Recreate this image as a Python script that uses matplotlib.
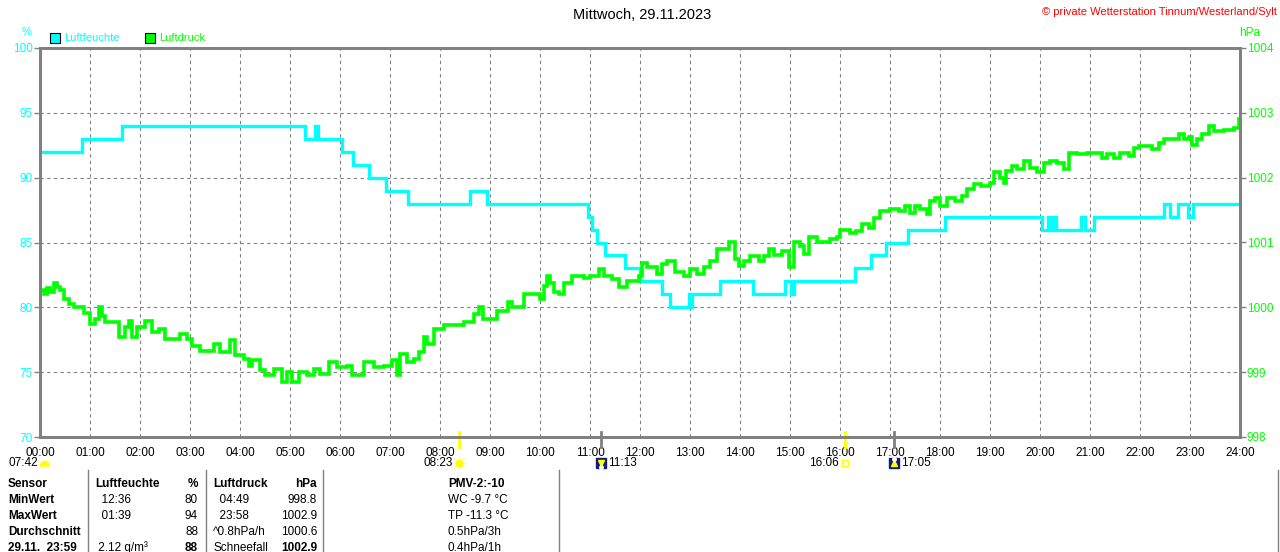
import matplotlib
matplotlib.use("Agg")
import matplotlib.pyplot as plt
from matplotlib.patches import Rectangle, Wedge
from matplotlib.transforms import blended_transform_factory

plt.rcParams['font.family'] = ['Liberation Sans', 'DejaVu Sans']

W, H = 1280, 552
CYAN = '#00ffff'
GREEN = '#00ff00'
GREY = '#808080'
NAVY = '#10207a'

# Luftfeuchte (%), change points (hour of day, value)
hum_h = [0.00, 0.84, 1.64, 5.30, 5.50, 5.56, 6.03, 6.25, 6.57, 6.92, 7.35,
         8.59, 8.95, 10.95, 11.03, 11.13, 11.30, 11.70, 12.00, 12.43, 12.60,
         12.97, 13.00, 13.03, 13.60, 14.25, 14.90, 15.02, 15.07, 16.30, 16.62,
         16.92, 17.35, 18.09, 20.03, 20.15, 20.21, 20.25, 20.32, 20.82, 20.90,
         21.08, 22.47, 22.60, 22.75, 22.95, 23.05, 23.98]
hum_v = [92, 93, 94, 93, 94, 93, 92, 91, 90, 89, 88,
         89, 88, 87, 86, 85, 84, 83, 82, 81, 80,
         81, 80, 81, 82, 81, 82, 81, 82, 83, 84,
         85, 86, 87, 86, 87, 86, 87, 86, 87, 86,
         87, 88, 87, 88, 87, 88, 88]

# Luftdruck (hPa)
press_h = [0.00, 0.07, 0.13, 0.20, 0.27, 0.33, 0.40, 0.47, 0.57, 0.67, 0.80, 0.87,
           1.00, 1.10, 1.17, 1.23, 1.30, 1.47, 1.57, 1.70, 1.77, 1.83, 1.93,
           2.10, 2.23, 2.37, 2.50, 2.73, 2.80, 2.93, 3.03, 3.20, 3.47, 3.60,
           3.80, 3.90, 4.07, 4.17, 4.23, 4.40, 4.50, 4.67, 4.83, 4.93, 5.03,
           5.17, 5.33, 5.47, 5.60, 5.77, 5.93, 6.13, 6.23, 6.47, 6.67, 6.87,
           7.03, 7.13, 7.20, 7.33, 7.47, 7.57, 7.67, 7.73, 7.87, 8.07, 8.20,
           8.40, 8.47, 8.67, 8.77, 8.87, 9.00, 9.13, 9.27, 9.37, 9.43, 9.57,
           9.67, 9.93, 10.00, 10.07, 10.13, 10.20, 10.27, 10.37, 10.47, 10.63,
           10.87, 11.00, 11.17, 11.27, 11.43, 11.57, 11.73, 11.90, 11.97, 12.03,
           12.13, 12.27, 12.33, 12.43, 12.53, 12.63, 12.70, 12.87, 13.00, 13.13,
           13.27, 13.40, 13.53, 13.67, 13.77, 13.90, 13.97, 14.07, 14.20, 14.37,
           14.47, 14.57, 14.67, 14.83, 14.97, 15.07, 15.20, 15.27, 15.37, 15.53,
           15.80, 15.93, 16.00, 16.20, 16.33, 16.43, 16.57, 16.67, 16.80, 17.00,
           17.17, 17.30, 17.40, 17.50, 17.60, 17.73, 17.80, 17.90, 18.00, 18.13,
           18.30, 18.43, 18.53, 18.67, 18.83, 19.00, 19.07, 19.20, 19.27, 19.33,
           19.43, 19.53, 19.67, 19.80, 19.93, 20.07, 20.20, 20.33, 20.47, 20.57,
           20.73, 20.93, 21.13, 21.23, 21.33, 21.47, 21.60, 21.77, 21.87, 21.97,
           22.13, 22.23, 22.37, 22.47, 22.60, 22.77, 22.87, 22.97, 23.03, 23.13,
           23.23, 23.37, 23.47, 23.67, 23.87, 23.97]
press_v = [1000.26, 1000.20, 1000.30, 1000.24, 1000.38, 1000.32, 1000.26, 1000.13, 1000.05, 1000.00, 1000.00, 999.92,
           999.74, 999.82, 1000.00, 999.87, 999.77, 999.77, 999.54, 999.69, 999.79, 999.54, 999.69,
           999.79, 999.62, 999.67, 999.51, 999.51, 999.59, 999.51, 999.41, 999.33, 999.44, 999.31,
           999.49, 999.26, 999.21, 999.10, 999.18, 999.03, 998.95, 999.05, 998.85, 999.00, 998.85,
           999.00, 998.95, 999.05, 998.97, 999.15, 999.08, 999.10, 998.95, 999.15, 999.08, 999.10,
           999.18, 998.95, 999.28, 999.15, 999.21, 999.31, 999.54, 999.44, 999.67, 999.72, 999.72,
           999.72, 999.77, 999.90, 1000.00, 999.82, 999.82, 999.95, 999.95, 1000.08, 1000.00, 1000.00,
           1000.21, 1000.21, 1000.13, 1000.33, 1000.49, 1000.38, 1000.23, 1000.21, 1000.38, 1000.49,
           1000.46, 1000.49, 1000.59, 1000.49, 1000.44, 1000.31, 1000.41, 1000.41, 1000.49, 1000.69,
           1000.62, 1000.62, 1000.51, 1000.67, 1000.72, 1000.72, 1000.54, 1000.49, 1000.59, 1000.51,
           1000.62, 1000.72, 1000.90, 1000.90, 1001.00, 1000.74, 1000.64, 1000.72, 1000.79, 1000.72,
           1000.79, 1000.90, 1000.81, 1000.87, 1000.62, 1001.00, 1000.95, 1000.82, 1001.08, 1001.00,
           1001.05, 1001.08, 1001.20, 1001.15, 1001.18, 1001.28, 1001.23, 1001.38, 1001.49, 1001.51,
           1001.49, 1001.56, 1001.46, 1001.56, 1001.51, 1001.44, 1001.64, 1001.69, 1001.56, 1001.69,
           1001.64, 1001.72, 1001.82, 1001.90, 1001.87, 1001.92, 1002.08, 1002.00, 1001.92, 1002.10,
           1002.18, 1002.13, 1002.26, 1002.15, 1002.08, 1002.23, 1002.26, 1002.23, 1002.13, 1002.38,
           1002.36, 1002.38, 1002.38, 1002.31, 1002.36, 1002.31, 1002.38, 1002.33, 1002.46, 1002.49,
           1002.49, 1002.44, 1002.54, 1002.59, 1002.59, 1002.67, 1002.59, 1002.62, 1002.51, 1002.59,
           1002.67, 1002.79, 1002.72, 1002.74, 1002.77, 1002.90]

hour_labels = ["%02d:00" % h for h in range(25)]
hum_ticks = [70, 75, 80, 85, 90, 95, 100]
press_ticks = [998, 999, 1000, 1001, 1002, 1003, 1004]

# Sonne / Mond Ereignisse
event_h = [8.383, 11.217, 16.1, 17.083]
event_lbl = ["08:23", "11:13", "16:06", "17:05"]
event_kind = ["sunrise", "moonset", "sunset", "moonrise"]

table_rows = [
    ["Sensor", "Luftfeuchte", "%", "Luftdruck", "hPa", "PMV-2:-10"],
    ["MinWert", "  12:36", "80", "  04:49", "998.8", "WC -9.7 °C"],
    ["MaxWert", "  01:39", "94", "  23:58", "1002.9", "TP -11.3 °C"],
    ["Durchschnitt", "", "88", "^0.8hPa/h", "1000.6", "0.5hPa/3h"],
    ["29.11.  23:59", " 2.12 g/m³", "88", "Schneefall", "1002.9", "0.4hPa/1h"],
]


def fx(x):
    return x / W


def fy(y):
    return 1 - y / H


fig = plt.figure(figsize=(W / 100, H / 100), dpi=100)

# overlay in pixel coordinates for header, table
ov = fig.add_axes([0, 0, 1, 1])
ov.set_xlim(0, W)
ov.set_ylim(H, 0)
ov.axis('off')

ax = fig.add_axes([fx(40), fy(437), 1200 / W, 389 / H])
ax2 = ax.twinx()

ax.plot(hum_h, hum_v, drawstyle='steps-post', color=CYAN, lw=2.4, solid_joinstyle='miter')
ax2.plot(press_h, press_v, drawstyle='steps-post', color=GREEN, lw=2.6, solid_joinstyle='miter')

ax.set_xlim(0, 24)
ax.set_ylim(70, 100)
ax2.set_ylim(998, 1004)
ax.set_xticks(range(25))
ax.set_xticklabels(hour_labels)
ax.set_yticks(hum_ticks)
ax2.set_yticks(press_ticks)
ax.tick_params(axis='x', length=0, pad=7, labelsize=8.5)
ax.tick_params(axis='y', length=4, width=1, color=GREY, pad=1, labelsize=8.5, labelcolor=CYAN)
ax2.tick_params(axis='y', length=4, width=1, color=GREY, pad=1, labelsize=8.5, labelcolor=GREEN)
ax.grid(True, color=GREY, lw=0.8, linestyle=(0, (3, 3)))
ax.set_axisbelow(True)
for a in (ax, ax2):
    for s in a.spines.values():
        s.set_color(GREY)
        s.set_linewidth(2)

# event markers at the time axis
tr_ax = blended_transform_factory(ax.transData, ax.transAxes)
tr_fig = blended_transform_factory(ax.transData, fig.transFigure)
y_icon = fy(463)
for t, lbl, kind in zip(event_h, event_lbl, event_kind):
    col = 'yellow' if kind.startswith('sun') else GREY
    ax.plot([t, t], [0.012, -0.026], transform=tr_ax, color=col, lw=2, clip_on=False)
    if kind == 'sunrise':
        ax.plot([t], [y_icon], transform=tr_fig, marker=(8, 2, 0), ms=10, mec='#ffff80', mew=0.8, clip_on=False)
        ax.plot([t], [y_icon], transform=tr_fig, marker='o', ms=4.5, mfc='yellow', mec='yellow', clip_on=False)
        ax.annotate(lbl, (t, y_icon), xycoords=tr_fig, xytext=(-6, 0), textcoords='offset pixels',
                    ha='right', va='center', fontsize=8.5)
    elif kind == 'sunset':
        ax.plot([t], [y_icon], transform=tr_fig, marker='s', ms=4, mfc='none', mec='yellow', mew=1, clip_on=False)
        ax.annotate(lbl, (t, y_icon), xycoords=tr_fig, xytext=(-6, 0), textcoords='offset pixels',
                    ha='right', va='center', fontsize=8.5)
    else:
        ax.plot([t], [y_icon], transform=tr_fig, marker='s', ms=7.5, mfc=NAVY, mec=NAVY, clip_on=False)
        arrow = 'v' if kind == 'moonset' else '^'
        ax.plot([t], [y_icon], transform=tr_fig, marker=arrow, ms=4, mfc='yellow', mec='yellow', clip_on=False)
        ax.plot([t], [fy(467) if kind == 'moonset' else fy(459)], transform=tr_fig, marker='o', ms=2.5,
                mfc='white', mec='white', clip_on=False)
        ax.annotate(lbl, (t, y_icon), xycoords=tr_fig, xytext=(7, 0), textcoords='offset pixels',
                    ha='left', va='center', fontsize=8.5)

# header
ov.text(642, 15, "Mittwoch, 29.11.2023", ha='center', va='center', fontsize=10.5)
ov.text(1277, 12, "© private Wetterstation Tinnum/Westerland/Sylt", ha='right', va='center',
        fontsize=8, color='red')
ov.text(27, 32, "%", ha='center', va='center', fontsize=8, color=CYAN)
ov.text(1250, 33, "hPa", ha='center', va='center', fontsize=8.5, color=GREEN)
ov.add_patch(Rectangle((50, 33), 10, 10, facecolor=CYAN, edgecolor='black', lw=0.8))
ov.text(64, 38, "Luftfeuchte", ha='left', va='center', fontsize=8, color=CYAN)
ov.add_patch(Rectangle((145, 33), 10, 10, facecolor=GREEN, edgecolor='black', lw=0.8))
ov.text(159, 38, "Luftdruck", ha='left', va='center', fontsize=8, color=GREEN)

# 07:42 at the left
ov.text(38, 463, "07:42", ha='right', va='center', fontsize=8.5)
ov.add_patch(Wedge((45, 466), 4.5, 180, 360, facecolor='yellow', edgecolor='yellow'))

# table
row_y = [484, 500, 516, 532, 548]
col_x = [8, 95, 198, 213, 317, 448]
col_ha = ['left', 'left', 'right', 'left', 'right', 'left']
for r, (y, row) in enumerate(zip(row_y, table_rows)):
    for c, txt in enumerate(row):
        bold = r == 0 or c == 0 or (r == 4 and c in (2, 4))
        ov.text(col_x[c], y, txt, ha=col_ha[c], va='center', fontsize=8.5,
                fontweight='bold' if bold else 'normal')
for x in [88, 206, 323, 559, 1278]:
    ov.plot([x, x], [470, H], color=GREY, lw=1)

fig.savefig("out.png", dpi=100)
